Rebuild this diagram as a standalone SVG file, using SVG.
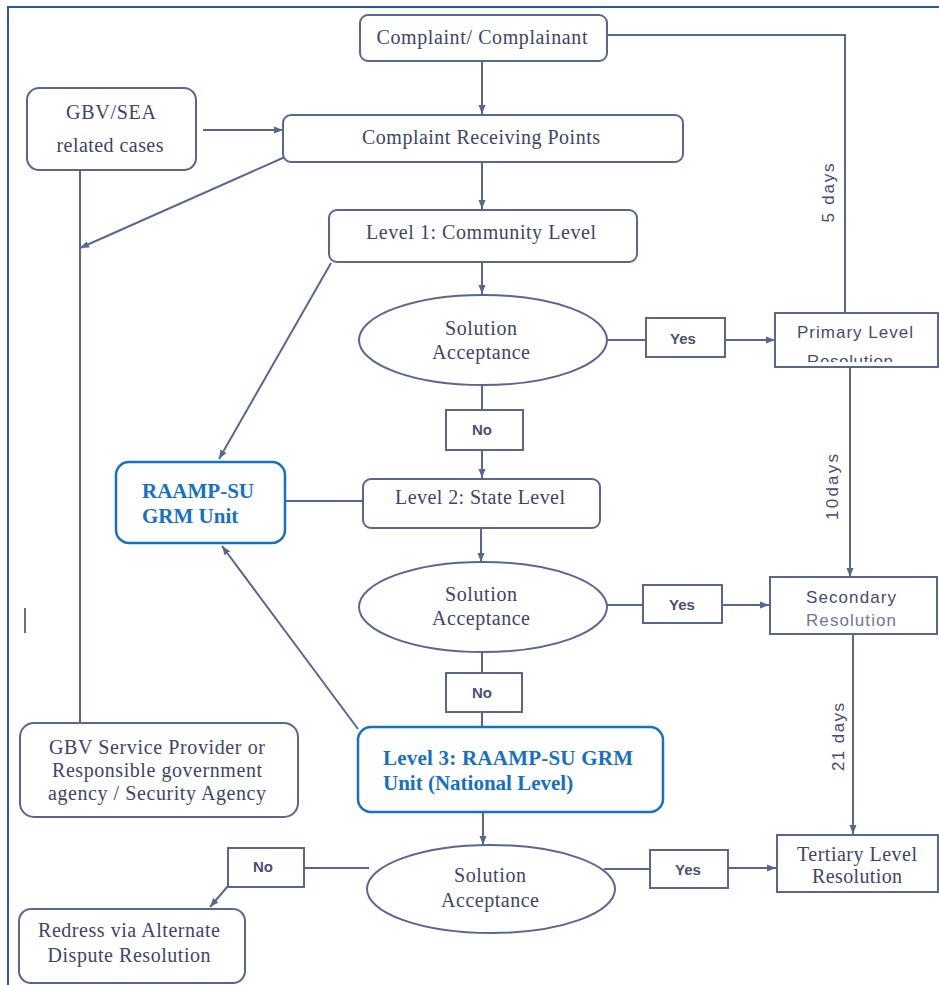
<svg xmlns="http://www.w3.org/2000/svg" width="939" height="985" viewBox="0 0 939 985">
<style>
.n{fill:#fff;stroke:#5a6690;stroke-width:2}
.b{fill:#fff;stroke:#1670c4;stroke-width:2.5}
.c{fill:none;stroke:#5a6690;stroke-width:2}
.t{font-family:"Liberation Serif",serif;font-size:20px;fill:#3e4566;text-anchor:middle}
.s{font-family:"Liberation Sans",sans-serif;font-size:17px;fill:#454c6c;text-anchor:middle}
.sb{font-family:"Liberation Sans",sans-serif;font-size:15px;font-weight:bold;fill:#4a5070;text-anchor:middle}
.bt{font-family:"Liberation Serif",serif;font-size:21px;font-weight:bold;fill:#1670c4}
</style>
<defs>
<marker id="ah" markerUnits="userSpaceOnUse" markerWidth="10" markerHeight="10" refX="9" refY="5" orient="auto">
<path d="M0,1.5 L9,5 L0,8.5 z" fill="#5a6690"/>
</marker>
<clipPath id="pc"><rect x="775" y="313" width="165" height="49"/></clipPath>
</defs>
<rect width="939" height="985" fill="#fff"/>
<g id="frame" stroke="#2e55a5" stroke-width="2" fill="none">
<path d="M8,985 V7 H939"/>
</g>
<line x1="25" y1="608" x2="25" y2="633" stroke="#6a7090" stroke-width="2"/>

<g id="connectors">
<line class="c" x1="482" y1="61" x2="482" y2="114" marker-end="url(#ah)"/>
<line class="c" x1="482" y1="162" x2="482" y2="209" marker-end="url(#ah)"/>
<line class="c" x1="482" y1="262" x2="482" y2="294" marker-end="url(#ah)"/>
<line class="c" x1="203" y1="130" x2="283" y2="130" marker-end="url(#ah)"/>
<line class="c" x1="285" y1="157" x2="80" y2="248" marker-end="url(#ah)"/>
<line class="c" x1="80" y1="170" x2="80" y2="723"/>
<line class="c" x1="331" y1="263" x2="219" y2="459" marker-end="url(#ah)"/>
<line class="c" x1="482" y1="385" x2="482" y2="410"/>
<line class="c" x1="482" y1="450" x2="482" y2="478" marker-end="url(#ah)"/>
<line class="c" x1="363" y1="501" x2="285" y2="501"/>
<line class="c" x1="607" y1="340" x2="646" y2="340"/>
<line class="c" x1="725" y1="340" x2="775" y2="340" marker-end="url(#ah)"/>
<polyline class="c" points="607,35 845,35 845,313"/>
<line class="c" x1="850" y1="367" x2="850" y2="577" marker-end="url(#ah)"/>
<line class="c" x1="481" y1="528" x2="481" y2="562" marker-end="url(#ah)"/>
<line class="c" x1="607" y1="605" x2="643" y2="605"/>
<line class="c" x1="722" y1="605" x2="769" y2="605" marker-end="url(#ah)"/>
<line class="c" x1="482" y1="652" x2="482" y2="673"/>
<line class="c" x1="482" y1="712" x2="482" y2="727"/>
<line class="c" x1="358" y1="729" x2="222" y2="546" marker-end="url(#ah)"/>
<line class="c" x1="483" y1="812" x2="483" y2="845" marker-end="url(#ah)"/>
<line class="c" x1="604" y1="869" x2="650" y2="869"/>
<line class="c" x1="728" y1="868" x2="776" y2="868" marker-end="url(#ah)"/>
<line class="c" x1="853" y1="634" x2="853" y2="834" marker-end="url(#ah)"/>
<line class="c" x1="369" y1="868" x2="304" y2="868"/>
<line class="c" x1="228" y1="886" x2="210" y2="907" marker-end="url(#ah)"/>
<text class="s" transform="translate(834,193) rotate(-90)" textLength="59" font-size="18">5 days</text>
<text class="s" transform="translate(838,487) rotate(-90)" textLength="66" font-size="18">10days</text>
<text class="s" transform="translate(844,737) rotate(-90)" textLength="68" font-size="18">21 days</text>
</g>

<g id="complainant">
<rect class="n" x="360" y="15" width="247" height="46" rx="8"/>
<text class="t" x="482" y="44" textLength="211">Complaint/ Complainant</text>
</g>
<g id="receiving">
<rect class="n" x="283" y="115" width="400" height="47" rx="8"/>
<text class="t" x="481" y="144" textLength="238">Complaint Receiving Points</text>
</g>
<g id="gbvsea">
<rect class="n" x="27" y="88" width="169" height="82" rx="12"/>
<text class="t" x="111" y="119" textLength="90">GBV/SEA</text>
<text class="t" x="110" y="152" textLength="107">related cases</text>
</g>
<g id="level1">
<rect class="n" x="329" y="210" width="308" height="52" rx="8"/>
<text class="t" x="481" y="239" textLength="230">Level 1: Community Level</text>
</g>
<g id="accept1">
<ellipse class="n" cx="483" cy="340" rx="124" ry="45"/>
<text class="t" x="481" y="335" textLength="72">Solution</text>
<text class="t" x="481" y="359" textLength="98">Acceptance</text>
</g>
<g id="yes1">
<rect class="n" x="646" y="318" width="79" height="39"/>
<text class="sb" x="683" y="344">Yes</text>
</g>
<g id="primary">
<rect class="n" x="775" y="313" width="163" height="54"/>
<text class="s" x="855" y="338" textLength="116">Primary Level</text>
<text class="s" x="850" y="367" textLength="86" clip-path="url(#pc)">Resolution</text>
</g>
<g id="no1">
<rect class="n" x="446" y="410" width="77" height="40"/>
<text class="sb" x="482" y="435">No</text>
</g>
<g id="raamp">
<rect class="b" x="116" y="462" width="169" height="81" rx="13"/>
<text class="bt" x="142" y="498" textLength="112">RAAMP-SU</text>
<text class="bt" x="142" y="523">GRM Unit</text>
</g>
<g id="level2">
<rect class="n" x="363" y="479" width="237" height="49" rx="8"/>
<text class="t" x="480" y="504" textLength="170">Level 2: State Level</text>
</g>
<g id="accept2">
<ellipse class="n" cx="483" cy="607" rx="124" ry="45"/>
<text class="t" x="481" y="601" textLength="72">Solution</text>
<text class="t" x="481" y="625" textLength="98">Acceptance</text>
</g>
<g id="yes2">
<rect class="n" x="643" y="585" width="79" height="38"/>
<text class="sb" x="682" y="610">Yes</text>
</g>
<g id="secondary">
<rect class="n" x="770" y="577" width="167" height="57"/>
<text class="s" x="851" y="603" textLength="90">Secondary</text>
<text class="s" x="851" y="626" textLength="90" style="fill:#70768f">Resolution</text>
</g>
<g id="no2">
<rect class="n" x="446" y="673" width="76" height="39"/>
<text class="sb" x="482" y="698">No</text>
</g>
<g id="gbvprovider">
<rect class="n" x="20" y="723" width="278" height="94" rx="14"/>
<text class="t" x="157" y="754" textLength="216">GBV Service Provider or</text>
<text class="t" x="157" y="777" textLength="210">Responsible government</text>
<text class="t" x="157" y="800" textLength="218">agency / Security Agency</text>
</g>
<g id="level3">
<rect class="b" x="358" y="727" width="305" height="85" rx="13"/>
<text class="bt" x="383" y="765" textLength="250">Level 3: RAAMP-SU GRM</text>
<text class="bt" x="383" y="790">Unit (National Level)</text>
</g>
<g id="accept3">
<ellipse class="n" cx="491" cy="889" rx="124" ry="44"/>
<text class="t" x="490" y="882" textLength="72">Solution</text>
<text class="t" x="490" y="907" textLength="98">Acceptance</text>
</g>
<g id="yes3">
<rect class="n" x="650" y="850" width="78" height="38"/>
<text class="sb" x="688" y="875">Yes</text>
</g>
<g id="tertiary">
<rect class="n" x="777" y="835" width="161" height="57"/>
<text class="t" x="857" y="861" textLength="120">Tertiary Level</text>
<text class="t" x="857" y="883" textLength="90">Resolution</text>
</g>
<g id="no3">
<rect class="n" x="228" y="848" width="76" height="39"/>
<text class="sb" x="263" y="872">No</text>
</g>
<g id="redress">
<rect class="n" x="19" y="909" width="226" height="74" rx="12"/>
<text class="t" x="129" y="937" textLength="182">Redress via Alternate</text>
<text class="t" x="129" y="962" textLength="163">Dispute Resolution</text>
</g>
</svg>
